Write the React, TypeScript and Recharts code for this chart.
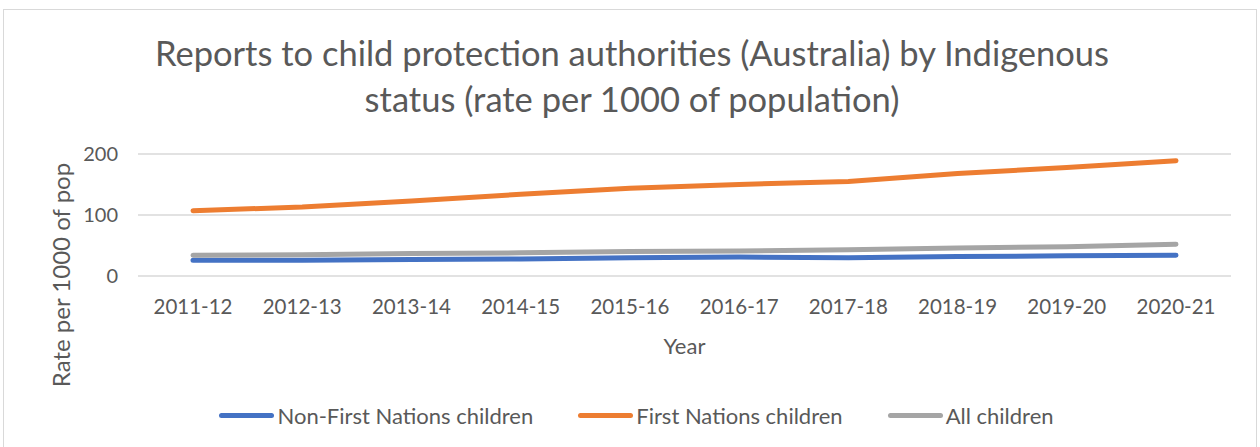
import { CartesianGrid, Label, Legend, Line, LineChart, XAxis, YAxis } from "recharts";

const years = ["2011-12", "2012-13", "2013-14", "2014-15", "2015-16", "2016-17", "2017-18", "2018-19", "2019-20", "2020-21"];
const nonFirstNations = [26, 26, 27, 28, 30, 31, 30, 32, 33, 34];
const firstNations = [107, 113, 123, 134, 144, 150, 155, 168, 178, 189];
const allChildren = [34, 35, 37, 38, 40, 41, 43, 46, 48, 52];
const yTicks = [0, 100, 200];

const series = [
  { key: "nonFN", name: "Non-First Nations children", color: "#4472C4" },
  { key: "fn", name: "First Nations children", color: "#ED7D31" },
  { key: "all", name: "All children", color: "#A5A5A5" },
];

const dados = years.map((ano, i) => ({
  ano,
  nonFN: nonFirstNations[i],
  fn: firstNations[i],
  all: allChildren[i],
}));

const FONT = "Lato, 'Open Sans', sans-serif";
const CINZA = "#595959";

function LegendaCustom() {
  return (
    <div style={{ display: "flex", justifyContent: "center", gap: 45, fontFamily: FONT, fontSize: 22, color: CINZA, paddingLeft: 42, marginTop: 5 }}>
      {series.map((s) => (
        <div key={s.key} style={{ display: "flex", alignItems: "center" }}>
          <span style={{ display: "inline-block", width: 55, height: 5, borderRadius: 3, background: s.color, marginRight: 3 }} />
          <span>{s.name}</span>
        </div>
      ))}
    </div>
  );
}

function RotuloY({ viewBox }: any) {
  const cx = viewBox.x + 60;
  const cy = viewBox.y + viewBox.height / 2 + 60;
  return (
    <text x={cx} y={cy} transform={`rotate(-90 ${cx} ${cy})`} textAnchor="middle" dominantBaseline="central" fill={CINZA} fontSize={24} fontFamily={FONT}>
      Rate per 1000 of pop
    </text>
  );
}

export default function App() {
  return (
    <div style={{ position: "absolute", left: 0, top: 0, width: 1260, height: 447, background: "#fff", overflow: "hidden" }}>
      <div style={{ position: "absolute", left: 3, top: 9, width: 1252, height: 460, border: "1px solid #d9d9d9" }} />
      <div style={{ position: "absolute", left: 0, top: 30, width: 1264, textAlign: "center", fontFamily: FONT, fontSize: 34.5, lineHeight: "46px", color: CINZA }}>
        Reports to child protection authorities (Australia) by Indigenous
        <br />
        status (rate per 1000 of population)
      </div>
      <LineChart width={1260} height={447} data={dados} margin={{ top: 154, right: 29, bottom: 10, left: 0 }} style={{ position: "absolute", left: 0, top: 0 }}>
        <CartesianGrid vertical={false} stroke="#d9d9d9" strokeWidth={1.3} />
        <XAxis dataKey="ano" axisLine={false} tickLine={false} tickSize={0} tickMargin={23} height={121} padding={{ left: 55, right: 55 }} tick={{ fill: CINZA, fontSize: 20.5, fontFamily: FONT }}>
          <Label value="Year" position="insideTop" offset={62} fill={CINZA} fontSize={22} fontFamily={FONT} />
        </XAxis>
        <YAxis domain={[0, 200]} ticks={yTicks} width={138} axisLine={false} tickLine={false} tickSize={0} tickMargin={20} tick={{ fill: CINZA, fontSize: 20, fontFamily: FONT }}>
          <Label content={<RotuloY />} />
        </YAxis>
        <Legend verticalAlign="bottom" height={40} content={<LegendaCustom />} />
        {series.map((s) => (
          <Line key={s.key} type="linear" dataKey={s.key} name={s.name} stroke={s.color} strokeWidth={5} strokeLinecap="round" dot={false} isAnimationActive={false} />
        ))}
      </LineChart>
    </div>
  );
}
